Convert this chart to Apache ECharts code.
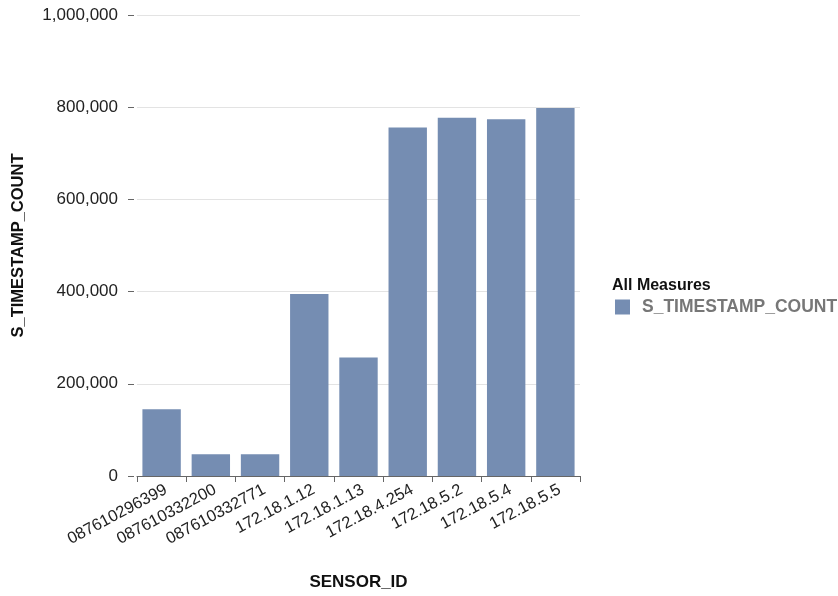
<!DOCTYPE html>
<html>
<head>
<meta charset="utf-8">
<script src="https://cdn.jsdelivr.net/npm/echarts@6/dist/echarts.min.js"></script>
<style>
html,body{margin:0;padding:0;background:#fff;}
#chart{width:838px;height:596px;}
</style>
</head>
<body>
<div id="chart"></div>
<script>
const categories = ['087610296399','087610332200','087610332771','172.18.1.12','172.18.1.13','172.18.4.254','172.18.5.2','172.18.5.4','172.18.5.5'];
const seriesName = 'S_TIMESTAMP_COUNT';
const values = [145000, 47000, 47000, 395000, 257000, 756000, 777000, 774000, 798000];
const yTicks = [0, 200000, 400000, 600000, 800000, 1000000];
const xAxisName = 'SENSOR_ID';
const yAxisName = 'S_TIMESTAMP_COUNT';
const legendTitle = 'All Measures';

const FONT = '"Liberation Sans", Arial, sans-serif';
const chart = echarts.init(document.getElementById('chart'), null, {renderer: 'canvas'});
chart.setOption({
  animation: false,
  textStyle: {fontFamily: FONT},
  title: {
    text: legendTitle,
    left: 607, top: 273,
    textStyle: {fontFamily: FONT, fontSize: 16, fontWeight: 'bold', color: '#111'}
  },
  legend: {
    left: 610, top: 293,
    icon: 'rect', itemWidth: 15, itemHeight: 15, itemGap: 10,
    textStyle: {fontFamily: FONT, fontSize: 17.5, fontWeight: 'bold', color: '#777', padding: [0, 0, 0, 7]},
    data: [seriesName]
  },
  grid: {left: 137, right: 258, top: 15, bottom: 119, containLabel: false},
  xAxis: {
    type: 'category',
    data: categories,
    name: xAxisName,
    nameLocation: 'middle',
    nameGap: 98,
    nameTextStyle: {fontFamily: FONT, fontSize: 17, fontWeight: 'bold', color: '#111'},
    axisLine: {lineStyle: {color: '#666', width: 1}},
    axisTick: {show: true, alignWithLabel: false, length: 6, lineStyle: {color: '#666'}},
    axisLabel: {rotate: 28, fontFamily: FONT, fontSize: 16.5, color: '#222', margin: 15,
      padding: [0, -5, 0, 0], interval: 0}
  },
  yAxis: {
    type: 'value',
    min: yTicks[0], max: yTicks[yTicks.length - 1], interval: 200000,
    name: yAxisName,
    nameLocation: 'middle',
    nameGap: 107,
    nameTextStyle: {fontFamily: FONT, fontSize: 16.5, fontWeight: 'bold', color: '#111'},
    offset: 3,
    axisLine: {show: false},
    axisTick: {show: true, length: 6, lineStyle: {color: '#666'}},
    axisLabel: {fontFamily: FONT, fontSize: 17, color: '#222', margin: 16,
      formatter: v => v.toLocaleString('en-US')},
    splitLine: {show: true, lineStyle: {color: '#e3e3e3', width: 1}}
  },
  series: [{
    name: seriesName,
    type: 'bar',
    data: values,
    barCategoryGap: '22%',
    itemStyle: {color: '#758db2'}
  }]
});
</script>
</body>
</html>
